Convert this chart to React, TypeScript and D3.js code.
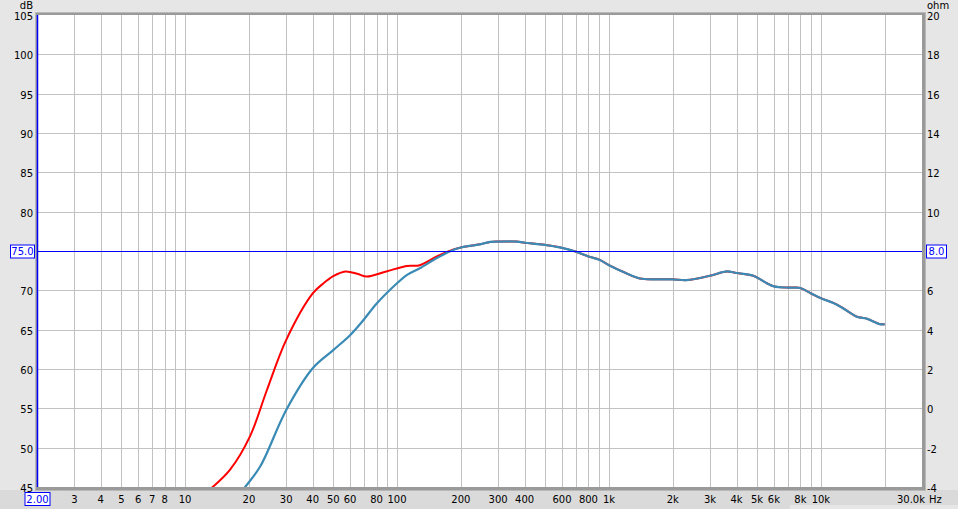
import React, { useEffect, useRef } from 'react';
import * as d3 from 'd3';

// shared part of both responses (identical above ~200 Hz)
const sharedFreq = [200, 246, 275, 300, 367, 400, 473, 520, 600, 700, 800, 900, 1000, 1200, 1400, 1650, 2000, 2330, 3000, 3600, 4000, 4800, 5560, 6000, 7000, 7550, 8000, 9000, 10000, 11450, 12770, 14770, 16450, 19000, 20000];
const sharedDb = [75.45, 75.85, 76.15, 76.2, 76.2, 76.05, 75.85, 75.7, 75.4, 74.9, 74.3, 73.9, 73.2, 72.2, 71.5, 71.4, 71.4, 71.3, 71.85, 72.4, 72.2, 71.85, 70.9, 70.5, 70.35, 70.35, 70.3, 69.6, 69.0, 68.4, 67.7, 66.65, 66.4, 65.7, 65.7];

// low end, red trace
const redFreq = [12.5, 13.5, 16.3, 20.2, 24.3, 30, 40, 45, 50, 57, 65, 72, 89, 111, 128, 154, 185];
const redDb = [44.3, 45, 47.2, 51.4, 57.3, 63.7, 69.6, 70.9, 71.8, 72.4, 72.1, 71.75, 72.4, 73.1, 73.2, 74.3, 75.2];

// low end, blue trace
const blueFreq = [18.3, 19.2, 22.6, 30, 40, 50, 60, 69.3, 80, 100, 112, 128, 154, 185];
const blueDb = [44.3, 45, 47.6, 54.8, 60.1, 62.4, 64.3, 66.2, 68.3, 70.9, 72.0, 72.8, 74.1, 75.15];

const xGrid = [3, 4, 5, 6, 7, 8, 9, 10, 20, 30, 40, 50, 60, 70, 80, 90, 100, 200, 300, 400, 500, 600, 700, 800, 900, 1000, 2000, 3000, 4000, 5000, 6000, 7000, 8000, 9000, 10000, 20000];
const xLabels = [3, 4, 5, 6, 7, 8, 10, 20, 30, 40, 50, 60, 80, 100, 200, 300, 400, 600, 800, 1000, 2000, 3000, 4000, 5000, 6000, 8000, 10000];
const dbTicks = [45, 50, 55, 60, 65, 70, 75, 80, 85, 90, 95, 100, 105];
const ohmTicks = [-4, -2, 0, 2, 4, 6, 8, 10, 12, 14, 16, 18, 20];

const W = 958;
const H = 509;
const margin = { top: 15, right: 36, bottom: 22, left: 37 };
const FONT = '"DejaVu Sans", Verdana, sans-serif';

export default function App() {
  const svgRef = useRef<SVGSVGElement>(null);

  useEffect(() => {
    if (!svgRef.current) return;
    document.body.style.margin = '0';
    const svg = d3.select(svgRef.current);
    svg.selectAll('*').remove();

    const x0 = margin.left;
    const x1 = W - margin.right;
    const y0 = margin.top;
    const y1 = H - margin.bottom;

    const x = d3.scaleLog().domain([2, 30000]).range([x0, x1]);
    const y = d3.scaleLinear().domain([45, 105]).range([y1, y0]);
    const yR = d3.scaleLinear().domain([-4, 20]).range([y1, y0]);

    // backgrounds
    svg.append('rect').attr('width', W).attr('height', H).attr('fill', '#e6e6e6');
    svg.append('rect').attr('x', 0).attr('y', y1 + 3).attr('width', W).attr('height', H - y1 - 3).attr('fill', '#dadada');
    svg.append('rect').attr('x', 790).attr('y', H - 4).attr('width', W - 790).attr('height', 4).attr('fill', '#e6e6e6');

    // frame shadow
    svg.append('rect').attr('x', x0 - 2).attr('y', y0 - 3).attr('width', x1 - x0 + 6).attr('height', y1 - y0 + 7).attr('fill', '#b8b8b8');
    svg.append('rect').attr('x', x0 - 1).attr('y', y0 - 2).attr('width', x1 - x0 + 4).attr('height', y1 - y0 + 5).attr('fill', '#9a9a9a');
    svg.append('rect').attr('x', x0).attr('y', y0).attr('width', x1 - x0).attr('height', y1 - y0).attr('fill', '#ffffff');

    const g = svg.append('g');

    // vertical grid
    g.selectAll('line.vx').data(xGrid).enter().append('line')
      .attr('x1', d => Math.round(x(d)) + 0.5).attr('x2', d => Math.round(x(d)) + 0.5)
      .attr('y1', y0).attr('y2', y1)
      .attr('stroke', '#c2c2c2').attr('stroke-width', 1);

    // horizontal grid
    g.selectAll('line.hy').data(dbTicks.slice(1, -1)).enter().append('line')
      .attr('x1', x0).attr('x2', x1)
      .attr('y1', d => Math.round(y(d)) + 0.5).attr('y2', d => Math.round(y(d)) + 0.5)
      .attr('stroke', '#c2c2c2').attr('stroke-width', 1);

    // curves
    const clip = svg.append('clipPath').attr('id', 'plotclip');
    clip.append('rect').attr('x', x0).attr('y', y0).attr('width', x1 - x0).attr('height', y1 - y0);

    const line = d3.line<[number, number]>()
      .x(d => x(d[0]))
      .y(d => y(d[1]))
      .curve(d3.curveCatmullRom.alpha(0.5));

    const shared: [number, number][] = sharedFreq.map((f, i) => [f, sharedDb[i]]);
    const red: [number, number][] = redFreq.map((f, i) => [f, redDb[i]] as [number, number]).concat(shared);
    const blue: [number, number][] = blueFreq.map((f, i) => [f, blueDb[i]] as [number, number]).concat(shared);

    const curves = svg.append('g').attr('clip-path', 'url(#plotclip)');
    curves.append('path').datum(red)
      .attr('fill', 'none').attr('stroke', '#ff0000').attr('stroke-width', 2).attr('d', line);
    curves.append('path').datum(blue)
      .attr('fill', 'none').attr('stroke', '#3a8ab6').attr('stroke-width', 2.2).attr('d', line);

    // reference line at 75 dB
    const yRef = Math.round(y(75)) + 0.5;
    svg.append('line').attr('x1', x0).attr('x2', x1).attr('y1', yRef).attr('y2', yRef)
      .attr('stroke', '#0000ff').attr('stroke-width', 1);

    // left axis line
    svg.append('line').attr('x1', x0 + 0.5).attr('x2', x0 + 0.5).attr('y1', y0).attr('y2', y1)
      .attr('stroke', '#0000ff').attr('stroke-width', 1.5);

    const txt = (sel: d3.Selection<SVGGElement, unknown, null, undefined>) => sel
      .attr('font-family', FONT).attr('font-size', 10).attr('fill', '#000');

    // left labels
    const left = svg.append('g').call(txt);
    left.selectAll('text').data(dbTicks.filter(d => d !== 75)).enter().append('text')
      .attr('x', 33).attr('y', d => y(d) + 1.5).attr('dy', '0.35em').attr('text-anchor', 'end')
      .text(d => String(d));
    left.append('text').attr('x', 33).attr('y', 5).attr('dy', '0.35em').attr('text-anchor', 'end').text('dB');

    // right labels
    const right = svg.append('g').call(txt);
    right.selectAll('text').data(ohmTicks.filter(d => d !== 8)).enter().append('text')
      .attr('x', 927).attr('y', d => yR(d) + 1.5).attr('dy', '0.35em')
      .text(d => String(d));
    right.append('text').attr('x', 927).attr('y', 5).attr('dy', '0.35em').text('ohm');

    // bottom labels
    const fmt = (f: number) => (f >= 1000 ? `${f / 1000}k` : String(f));
    const bottom = svg.append('g').call(txt);
    bottom.selectAll('text').data(xLabels).enter().append('text')
      .attr('x', d => x(d)).attr('y', 499).attr('dy', '0.35em').attr('text-anchor', 'middle')
      .text(d => fmt(d));
    bottom.append('text').attr('x', 925).attr('y', 499).attr('dy', '0.35em').attr('text-anchor', 'end').text('30.0k');
    bottom.append('text').attr('x', 929).attr('y', 499).attr('dy', '0.35em').text('Hz');

    // boxed marker labels
    const boxed = (cx: number, cy: number, w: number, label: string) => {
      const b = svg.append('g');
      b.append('rect').attr('x', cx - w / 2 + 0.5).attr('y', cy - 6.5).attr('width', w).attr('height', 13)
        .attr('fill', '#ffffff').attr('stroke', '#0000ff').attr('stroke-width', 1);
      b.append('text').attr('x', cx + 0.5).attr('y', cy).attr('dy', '0.35em').attr('text-anchor', 'middle')
        .attr('font-family', FONT).attr('font-size', 10).attr('fill', '#0000ff').text(label);
    };
    boxed(22, y(75) + 0.5, 24, '75.0');
    boxed(936, yR(8) + 0.5, 20, '8.0');
    boxed(37, 499, 25, '2.00');
  }, []);

  return (
    <svg ref={svgRef} width={W} height={H} style={{ position: 'absolute', left: 0, top: 0, display: 'block' }} />
  );
}
